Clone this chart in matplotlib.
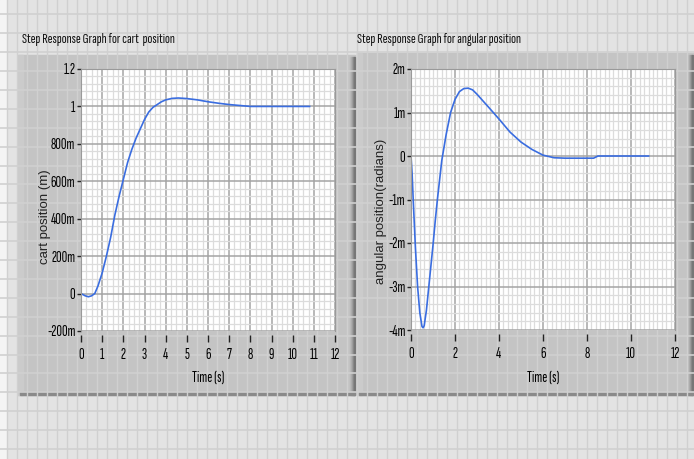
import matplotlib
matplotlib.use("Agg")
import matplotlib.pyplot as plt
from matplotlib.patches import Rectangle
from matplotlib.ticker import MultipleLocator, AutoMinorLocator, FuncFormatter

# step response of the cart position (m)
t_cart = [0, 0.2, 0.35, 0.5, 0.65, 0.8, 1.0, 1.2, 1.4, 1.6, 1.8, 2.0, 2.2, 2.4,
          2.6, 2.8, 3.0, 3.2, 3.4, 3.6, 3.8, 4.0, 4.3, 4.6, 5.0, 5.5, 6.0, 6.5,
          7.0, 7.5, 8.0, 9.0, 10.0, 10.8]
cart_pos = [0, -0.012, -0.017, -0.012, 0.0, 0.04, 0.11, 0.2, 0.3, 0.42, 0.52,
            0.61, 0.7, 0.77, 0.83, 0.88, 0.93, 0.97, 0.995, 1.01, 1.025, 1.035,
            1.043, 1.045, 1.042, 1.035, 1.025, 1.017, 1.01, 1.005, 1.0, 1.0,
            1.0, 1.0]

# step response of the angular position (milli-radians)
t_ang = [0, 0.05, 0.1, 0.2, 0.3, 0.4, 0.5, 0.55, 0.6, 0.7, 0.8, 0.9, 1.0, 1.1,
         1.2, 1.3, 1.4, 1.6, 1.8, 2.0, 2.2, 2.4, 2.6, 2.8, 3.0, 3.3, 3.6, 4.0,
         4.5, 5.0, 5.5, 6.0, 6.5, 7.0, 8.0, 8.3, 8.5, 9.0, 10.0, 10.8]
ang_pos_m = [0, -0.4, -1.0, -2.1, -3.0, -3.6, -3.92, -3.95, -3.9, -3.55, -3.05,
             -2.55, -2.05, -1.5, -1.0, -0.55, -0.1, 0.5, 1.0, 1.3, 1.48, 1.55,
             1.56, 1.52, 1.42, 1.25, 1.08, 0.85, 0.55, 0.32, 0.15, 0.02, -0.04,
             -0.05, -0.05, -0.05, 0.0, 0.0, 0.0, 0.0]

titles = ["Step Response Graph for cart  position",
          "Step Response Graph for angular position"]
ylabels = ["cart position (m)", "angular position(radians)"]

narrow = ["Sofia Sans Extra Condensed", "PT Sans Narrow", "DejaVu Sans"]
plain = ["Liberation Sans", "DejaVu Sans"]

W, H = 694, 459
fig = plt.figure(figsize=(W / 100, H / 100), dpi=100)
fig.patch.set_facecolor("#e3e3e3")

# front panel background with its grid
bg = fig.add_axes([0, 0, 1, 1], zorder=0)
bg.set_xlim(0, W)
bg.set_ylim(H, 0)
bg.axis("off")
bg.add_patch(Rectangle((0, 0), W, H, color="#e3e3e3"))
for x in range(7, W, 10):
    bg.axvline(x, color="#d0d0d0", lw=1)
y = 449.0
while y > 0:
    bg.axhline(y, color="#d0d0d0", lw=1.2)
    y -= 18.9
bg.add_patch(Rectangle((0, 0), 6, H, color="#f4f4f4"))


def panel(x0, y0, x1, y1):
    bg.add_patch(Rectangle((x0, y0), x1 - x0, y1 - y0, color="#c4c4c4"))
    bg.add_patch(Rectangle((x0, y0), 5, y1 - y0, color="#cbcbcb"))
    shades = ["#bcbcbc", "#b0b0b0", "#a0a0a0", "#8c8c8c", "#777777"]
    for i, c in enumerate(shades):
        bg.add_patch(Rectangle((x1 - 5 + i, y0 + 2), 1, y1 - y0 - 2, color=c))
    bg.add_patch(Rectangle((x0 + 2, y1 - 3), x1 - x0 - 2, 3, color="#8a8a8a"))


panel(18, 55, 355, 395)
panel(357, 53, 693, 395)

bg.text(22, 39, titles[0], fontsize=10.5, family=narrow, va="center", ha="left", color="#111111")
bg.text(357, 39, titles[1], fontsize=10.5, family=narrow, va="center", ha="left", color="#111111")


def fmt_si(v, pos):
    if abs(v) < 1e-9:
        return "0"
    if abs(v) >= 1:
        return f"{v:g}"
    return f"{v * 1000:g}m"


def style(ax, xmajor, xminor, ymajor, yminor):
    ax.set_facecolor("white")
    ax.xaxis.set_major_locator(MultipleLocator(xmajor))
    ax.xaxis.set_minor_locator(AutoMinorLocator(xminor))
    ax.yaxis.set_major_locator(MultipleLocator(ymajor))
    ax.yaxis.set_minor_locator(AutoMinorLocator(yminor))
    ax.grid(which="major", color="#a4a4a4", lw=1.1)
    ax.grid(which="minor", color="#dcdcdc", lw=0.9)
    ax.set_axisbelow(True)
    for s in ax.spines.values():
        s.set_color("#9a9a9a")
        s.set_linewidth(0.8)
    ax.spines["bottom"].set_position(("outward", 3))
    ax.spines["bottom"].set_visible(False)
    ax.tick_params(axis="x", which="major", length=5, width=1, color="#222222",
                   pad=4, labelsize=11)
    ax.tick_params(axis="y", which="major", length=3, width=1, color="#222222",
                   pad=1, labelsize=11)
    ax.tick_params(which="minor", length=0)


# cart position graph
ax1 = fig.add_axes([81 / W, 1 - 331 / H, 254 / W, 262 / H], zorder=2)
ax1.plot(t_cart, cart_pos, color="#3a6de0", lw=1.2)
ax1.set_xlim(0, 12)
ax1.set_ylim(-0.2, 1.2)
style(ax1, 1, 4, 0.2, 5)
ax1.yaxis.set_major_formatter(FuncFormatter(fmt_si))
ax1.set_xlabel("Time (s)", fontsize=11, family=narrow)
ax1.xaxis.set_label_coords(0.5, -0.153)
ax1.set_ylabel(ylabels[0], fontsize=9.5, family=plain, color="#222222")
ax1.yaxis.set_label_coords(-0.118, 0.435)

# angular position graph
ax2 = fig.add_axes([411 / W, 1 - 330 / H, 264 / W, 261 / H], zorder=2)
ax2.plot(t_ang, ang_pos_m, color="#3a6de0", lw=1.2)
ax2.set_xlim(0, 12)
ax2.set_ylim(-4, 2)
style(ax2, 2, 10, 1, 5)
ax2.yaxis.set_major_formatter(FuncFormatter(lambda v, p: "0" if abs(v) < 1e-9 else f"{v:g}m"))
ax2.set_xlabel("Time (s)", fontsize=11, family=narrow)
ax2.xaxis.set_label_coords(0.5, -0.157)
ax2.set_ylabel(ylabels[1], fontsize=9.5, family=plain, color="#222222")
ax2.yaxis.set_label_coords(-0.091, 0.456)

for ax in (ax1, ax2):
    for lab in ax.get_xticklabels() + ax.get_yticklabels():
        lab.set_family(narrow)

fig.savefig("out.png", dpi=100)
